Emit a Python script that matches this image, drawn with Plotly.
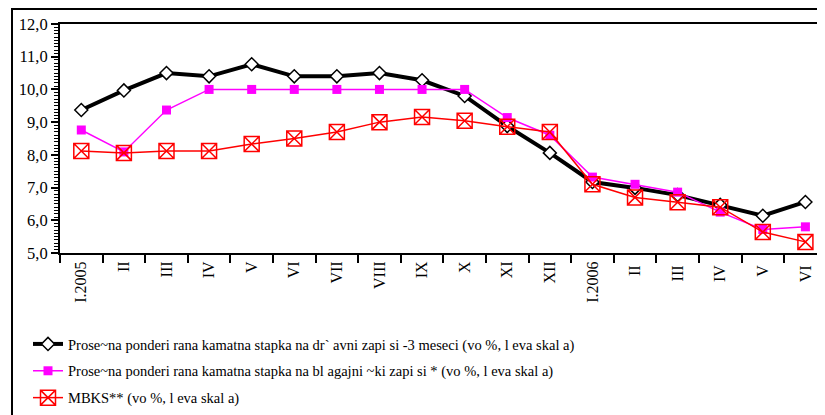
import plotly.graph_objects as go

# months, Jan 2005 - Jun 2006
months = ['I.2005', 'II', 'III', 'IV', 'V', 'VI', 'VII', 'VIII', 'IX', 'X', 'XI', 'XII',
          'I.2006', 'II ', 'III ', 'IV ', 'V ', 'VI ']

# weighted average rate on treasury bills, 3 months
drzavni = [9.37, 9.97, 10.5, 10.4, 10.77, 10.4, 10.4, 10.5, 10.28, 9.8, 8.88, 8.06,
           7.17, 6.99, 6.77, 6.47, 6.14, 6.56]
# weighted average rate on central bank bills
blagajnicki = [8.76, 8.09, 9.37, 10.0, 10.0, 10.0, 10.0, 10.0, 10.0, 10.0, 9.14, 8.6,
               7.32, 7.1, 6.86, 6.25, 5.72, 5.8]
# MBKS
mbks = [8.12, 8.06, 8.12, 8.12, 8.33, 8.5, 8.7, 9.0, 9.16, 9.04, 8.86, 8.7,
        7.1, 6.7, 6.55, 6.4, 5.64, 5.34]

names = [
    'Prose~na ponderi rana kamatna stapka na dr` avni zapi si -3 meseci (vo %, l eva skal a)',
    'Prose~na ponderi rana kamatna stapka na bl agajni ~ki zapi si * (vo %, l eva skal a)',
    'MBKS** (vo %, l eva skal a)',
]

fig = go.Figure()
fig.add_trace(go.Scatter(
    x=months, y=drzavni, name=names[0], mode='lines+markers', legendgroup='a',
    line=dict(color='black', width=4),
    marker=dict(symbol='diamond', size=10, color='white', line=dict(color='black', width=1.5))))
fig.add_trace(go.Scatter(
    x=months, y=blagajnicki, name=names[1], mode='lines+markers', legendgroup='b',
    line=dict(color='#ff00ff', width=1.5),
    marker=dict(symbol='square', size=9, color='#ff00ff')))
fig.add_trace(go.Scatter(
    x=months, y=mbks, name=names[2], mode='lines+markers', legendgroup='c',
    line=dict(color='#ff0000', width=1.5),
    marker=dict(symbol='square-x-open', size=15, color='#ff0000', line=dict(width=1.5))))

# page body has an 8px margin, so the figure is drawn 8px smaller
W, H = 817, 407
L, R, T, B = 52, 0, 16, 162
pw, ph = W - L - R, H - T - B

fig.update_layout(
    width=W, height=H,
    margin=dict(l=L, r=R, t=T, b=B, autoexpand=False),
    paper_bgcolor='white', plot_bgcolor='white',
    separators=', ',
    font=dict(family='Liberation Serif', color='black', size=16),
    showlegend=True,
    legend=dict(x=(20 - L) / pw, y=(245 - 320) / ph, xanchor='left', yanchor='top',
                font=dict(size=14.5), tracegroupgap=5, traceorder='grouped',
                itemwidth=30, bgcolor='rgba(0,0,0,0)'),
    xaxis=dict(
        type='category', range=[-0.5, 17.46], automargin=False,
        showline=True, linecolor='black', linewidth=2, mirror=True,
        ticks='outside', ticklen=8, tickwidth=1.5, tickcolor='black',
        tickson='boundaries', tickangle=-90, showgrid=False,
        tickfont=dict(size=16)),
    yaxis=dict(
        range=[5, 12], dtick=1, tickformat='.1f', automargin=False,
        showline=True, linecolor='black', linewidth=2,
        ticks='outside', ticklen=7, tickwidth=1.5, tickcolor='black',
        showgrid=False, zeroline=False,
        minor=dict(dtick=0.1, ticks='outside', ticklen=4, tickcolor='black', tickwidth=1),
        tickfont=dict(size=16.5)),
    shapes=[dict(type='rect', xref='paper', yref='paper',
                 x0=(4 - L) / pw, x1=1.2, y0=-1.0, y1=(245 - 1) / ph,
                 line=dict(color='black', width=2), layer='below')],
)

fig.write_html('out.html', config={'displayModeBar': False})
